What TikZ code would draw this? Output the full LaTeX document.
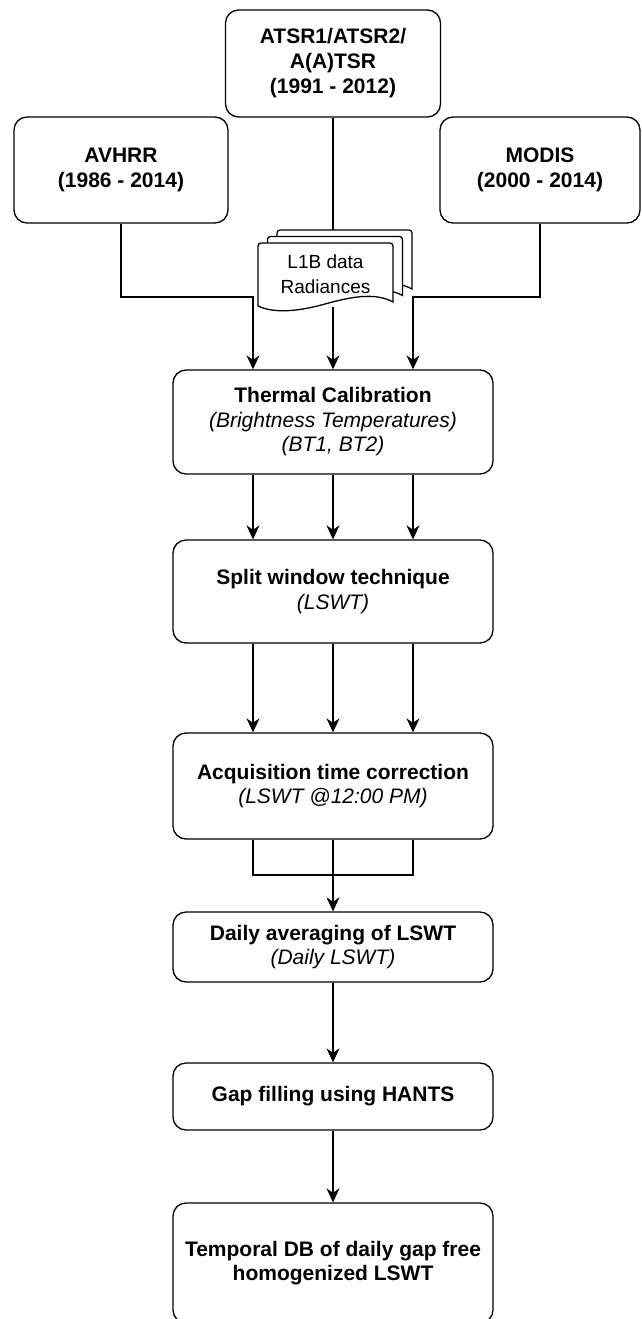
\documentclass[tikz,border=0pt]{standalone}
\usepackage{fontspec}
\setmainfont{Liberation Sans}
\usetikzlibrary{arrows.meta, positioning}
\tikzset{
  srcbox/.style={rectangle, draw, rounded corners=13pt, line width=1.3pt,
                 align=center, inner sep=0pt, font=\fontsize{21}{25}\selectfont\bfseries},
  stepbox/.style={rectangle, draw, rounded corners=13pt, line width=1.3pt,
                  align=center, inner sep=0pt, minimum width=320pt,
                  font=\fontsize{21}{24.5}\selectfont},
  arrow/.style={-{Stealth[length=14pt,width=13pt,inset=4.5pt]}, line width=1.3pt},
  link/.style={line width=1.3pt},
}
\newcommand{\lonebsheet}[1]{%
  \draw[link, fill=white, rounded corners=3pt, shift={(#1*9.5,-#1*6.5)}]
    (258,306) -- (258,243) -- (393,243) [sharp corners] -- (393,302)
    .. controls (375,292) and (350,297) .. (325,304)
    .. controls (300,311) and (275,314) .. (258,306) -- cycle;
}

\begin{document}
\begin{tikzpicture}[x=1pt, y=-1pt]
  \useasboundingbox (0,0) rectangle (641,1319);

  \node[srcbox, minimum width=215pt, minimum height=107pt] (atsr) at (333,63.5)
    {ATSR1/ATSR2/\\A(A)TSR\\(1991 - 2012)};
  \node[srcbox, minimum width=214pt, minimum height=106pt] (avhrr) at (121,170)
    {AVHRR\\(1986 - 2014)};
  \node[srcbox, minimum width=200pt, minimum height=106pt] (modis) at (540,170)
    {MODIS\\(2000 - 2014)};

  \lonebsheet{2}
  \lonebsheet{1}
  \lonebsheet{0}
  \node[inner sep=0pt, minimum width=135pt, minimum height=66pt,
        font=\fontsize{19}{25}\selectfont, align=center] (l1b) at (325.5,274)
    {L1B data\\Radiances};
  \coordinate (l1btop) at (333,230);

  \node[stepbox, minimum height=104pt] (thermal) at (333,422)
    {\textbf{Thermal Calibration}\\\textit{(Brightness Temperatures)}\\\textit{(BT1, BT2)}};
  \node[stepbox, minimum height=103pt] (split) at (333,591.5)
    {\textbf{Split window technique}\\\textit{(LSWT)}};
  \node[stepbox, minimum height=106pt] (acq) at (333,786)
    {\textbf{Acquisition time correction}\\\textit{(LSWT @12:00 PM)}};
  \node[stepbox, minimum height=70pt] (daily) at (333,947)
    {\textbf{Daily averaging of LSWT}\\\textit{(Daily LSWT)}};
  \node[stepbox, minimum height=67pt] (gap) at (333,1096.5)
    {\textbf{Gap filling using HANTS}};
  \node[stepbox, minimum height=120pt] (temporal) at (333,1263)
    {\textbf{Temporal DB of daily gap free}\\\textbf{homogenized LSWT}};

  \coordinate (avj) at (253,297);
  \coordinate (moj) at (413,297);
  \coordinate (merge) at (333,875);

  \draw[link] (atsr.south) -- (l1btop);
  \draw[arrow] (avhrr.south) |- (avj) -- (avj |- thermal.north);
  \draw[arrow] (modis.south) |- (moj) -- (moj |- thermal.north);
  \draw[arrow] (thermal.north |- l1b.south) -- (thermal.north);

  \foreach \dx in {-80,0,80} {
    \draw[arrow] ([xshift=\dx pt]thermal.south) -- ([xshift=\dx pt]split.north);
    \draw[arrow] ([xshift=\dx pt]split.south) -- ([xshift=\dx pt]acq.north);
  }

  \draw[link] ([xshift=-80pt]acq.south) |- (merge) -| ([xshift=80pt]acq.south);
  \draw[arrow] (acq.south) -- (daily.north);
  \draw[arrow] (daily.south) -- (gap.north);
  \draw[arrow] (gap.south) -- (temporal.north);
\end{tikzpicture}
\end{document}
